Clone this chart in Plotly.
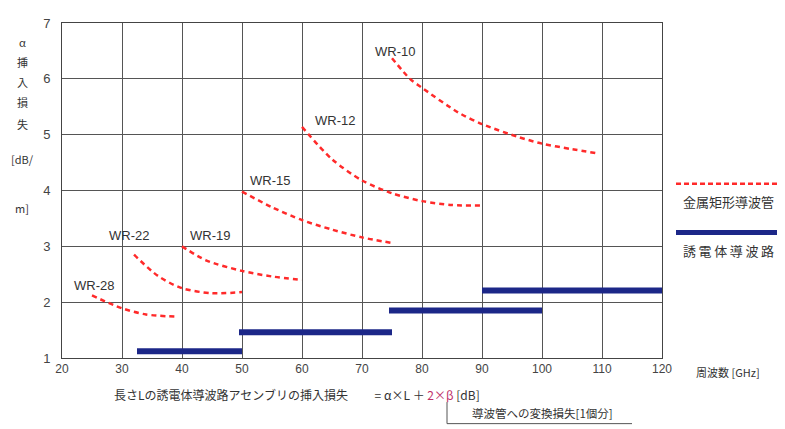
import plotly.graph_objects as go

# ---- data ----
wr_names = ["WR-28", "WR-22", "WR-19", "WR-15", "WR-12", "WR-10"]
wr28_x = [25, 30, 34, 39]
wr28_y = [2.12, 1.89, 1.78, 1.74]
wr22_x = [32, 36, 40, 45, 50]
wr22_y = [2.85, 2.47, 2.25, 2.16, 2.18]
wr19_x = [40, 44, 50, 55, 60]
wr19_y = [3.0, 2.75, 2.56, 2.46, 2.40]
wr15_x = [50, 55, 60, 65, 70, 75]
wr15_y = [3.98, 3.70, 3.47, 3.30, 3.16, 3.06]
wr12_x = [60, 65, 70, 75, 80, 85, 90]
wr12_y = [5.14, 4.56, 4.18, 3.95, 3.81, 3.74, 3.73]
wr10_x = [75, 78, 80, 86, 90, 96, 100, 105, 109]
wr10_y = [6.37, 6.0, 5.84, 5.40, 5.19, 4.96, 4.84, 4.74, 4.67]
wr_label_x = [25.3, 31.1, 44.7, 54.7, 65.5, 75.5]
wr_label_y = [2.30, 3.19, 3.19, 4.18, 5.25, 6.49]

diel_start = [32.5, 49.5, 74.5, 90]
diel_end = [50, 75, 100, 120]
diel_loss = [1.12, 1.46, 1.85, 2.21]

x_ticks = [20, 30, 40, 50, 60, 70, 80, 90, 100, 110, 120]
y_ticks = [1, 2, 3, 4, 5, 6, 7]

RED = "#ff2a2a"
BLUE = "#1c2788"
TXT = "#333333"
FONT = "Liberation Sans, Arial, sans-serif"
JFONT = "Noto Sans CJK JP, sans-serif"

# plot-area geometry in page pixels (page has an 8px body margin)
PL, PT, PW, PH = 62, 16, 600, 342


def px(x):
    return (x - PL) / PW


def py(y):
    return (PT + PH - y) / PH


fig = go.Figure()

curves = [(wr28_x, wr28_y), (wr22_x, wr22_y), (wr19_x, wr19_y),
          (wr15_x, wr15_y), (wr12_x, wr12_y), (wr10_x, wr10_y)]
for name, (xs, ys) in zip(wr_names, curves):
    fig.add_trace(go.Scatter(
        x=xs, y=ys, mode="lines", name=name, showlegend=False,
        line=dict(color=RED, width=2.5, dash="5px,4px", shape="spline", smoothing=0.8),
        hoverinfo="skip"))

for s, e, v in zip(diel_start, diel_end, diel_loss):
    fig.add_trace(go.Scatter(
        x=[s, e], y=[v, v], mode="lines", showlegend=False,
        line=dict(color=BLUE, width=6), hoverinfo="skip"))

for name, lx, ly in zip(wr_names, wr_label_x, wr_label_y):
    fig.add_annotation(x=lx, y=ly, text=name, showarrow=False,
                       xanchor="center", yanchor="middle",
                       font=dict(family=FONT, size=13, color=TXT))


def note(x, y, text, size, xanchor="center", color=TXT, family=JFONT):
    fig.add_annotation(xref="paper", yref="paper", x=px(x), y=py(y),
                       text=text, showarrow=False, xanchor=xanchor, yanchor="middle",
                       font=dict(family=family, size=size, color=color))


# legend (drawn manually, line above text)
fig.add_shape(type="line", xref="paper", yref="paper",
              x0=px(676), x1=px(780), y0=py(180), y1=py(180),
              line=dict(color=RED, width=2.5, dash="5px,3px"))
note(728, 198, "金属矩形導波管", 13)
fig.add_shape(type="line", xref="paper", yref="paper",
              x0=px(676), x1=px(780), y0=py(230), y1=py(230),
              line=dict(color=BLUE, width=5))
note(728, 248, "誘\u2009電\u2009体\u2009導\u2009波\u2009路", 13)

# x-axis title
note(694, 372, "周波数 [GHz]", 11, xanchor="left")

# y-axis title (stacked characters)
ytitle_parts = ["α", "挿", "入", "損", "失", "[dB/", "m]"]
ytitle_y = [35, 56, 76, 97, 119, 155, 205]
for t, yy in zip(ytitle_parts, ytitle_y):
    note(22, yy, t, 11)

# bottom formula
note(112, 395,
     "長さLの誘電体導波路アセンブリの挿入損失　　 = α×L ＋ <span style='color:#c0306a'>2×β</span> [dB]",
     12, xanchor="left")
fig.add_shape(type="line", xref="paper", yref="paper",
              x0=px(447), x1=px(447), y0=py(403), y1=py(425),
              line=dict(color="#555555", width=1))
fig.add_shape(type="line", xref="paper", yref="paper",
              x0=px(447), x1=px(632), y0=py(425), y1=py(425),
              line=dict(color="#555555", width=1))
note(470, 414, "導波管への変換損失[1個分]", 11.5, xanchor="left")

axis_common = dict(showgrid=True, gridcolor="#555555", gridwidth=1,
                   showline=True, linecolor="#444444", linewidth=1, mirror=True,
                   zeroline=False, ticks="")
fig.update_xaxes(range=[20, 120], tickvals=x_ticks, ticktext=[str(t) for t in x_ticks],
                 tickfont=dict(family=FONT, size=12, color="#444444"), **axis_common)
fig.update_yaxes(range=[1, 7], tickvals=y_ticks, ticktext=[str(t) for t in y_ticks],
                 tickfont=dict(family=FONT, size=13, color="#444444"),
                 ticklabelstandoff=8, **axis_common)

# offsets compensate for the page's 8px body margin
fig.update_layout(width=785, height=429,
                  margin=dict(l=PL - 8, r=785 - (PL - 8) - PW, t=PT - 8, b=429 - (PT - 8) - PH),
                  paper_bgcolor="white", plot_bgcolor="white",
                  showlegend=False)

fig.write_html("out.html")
